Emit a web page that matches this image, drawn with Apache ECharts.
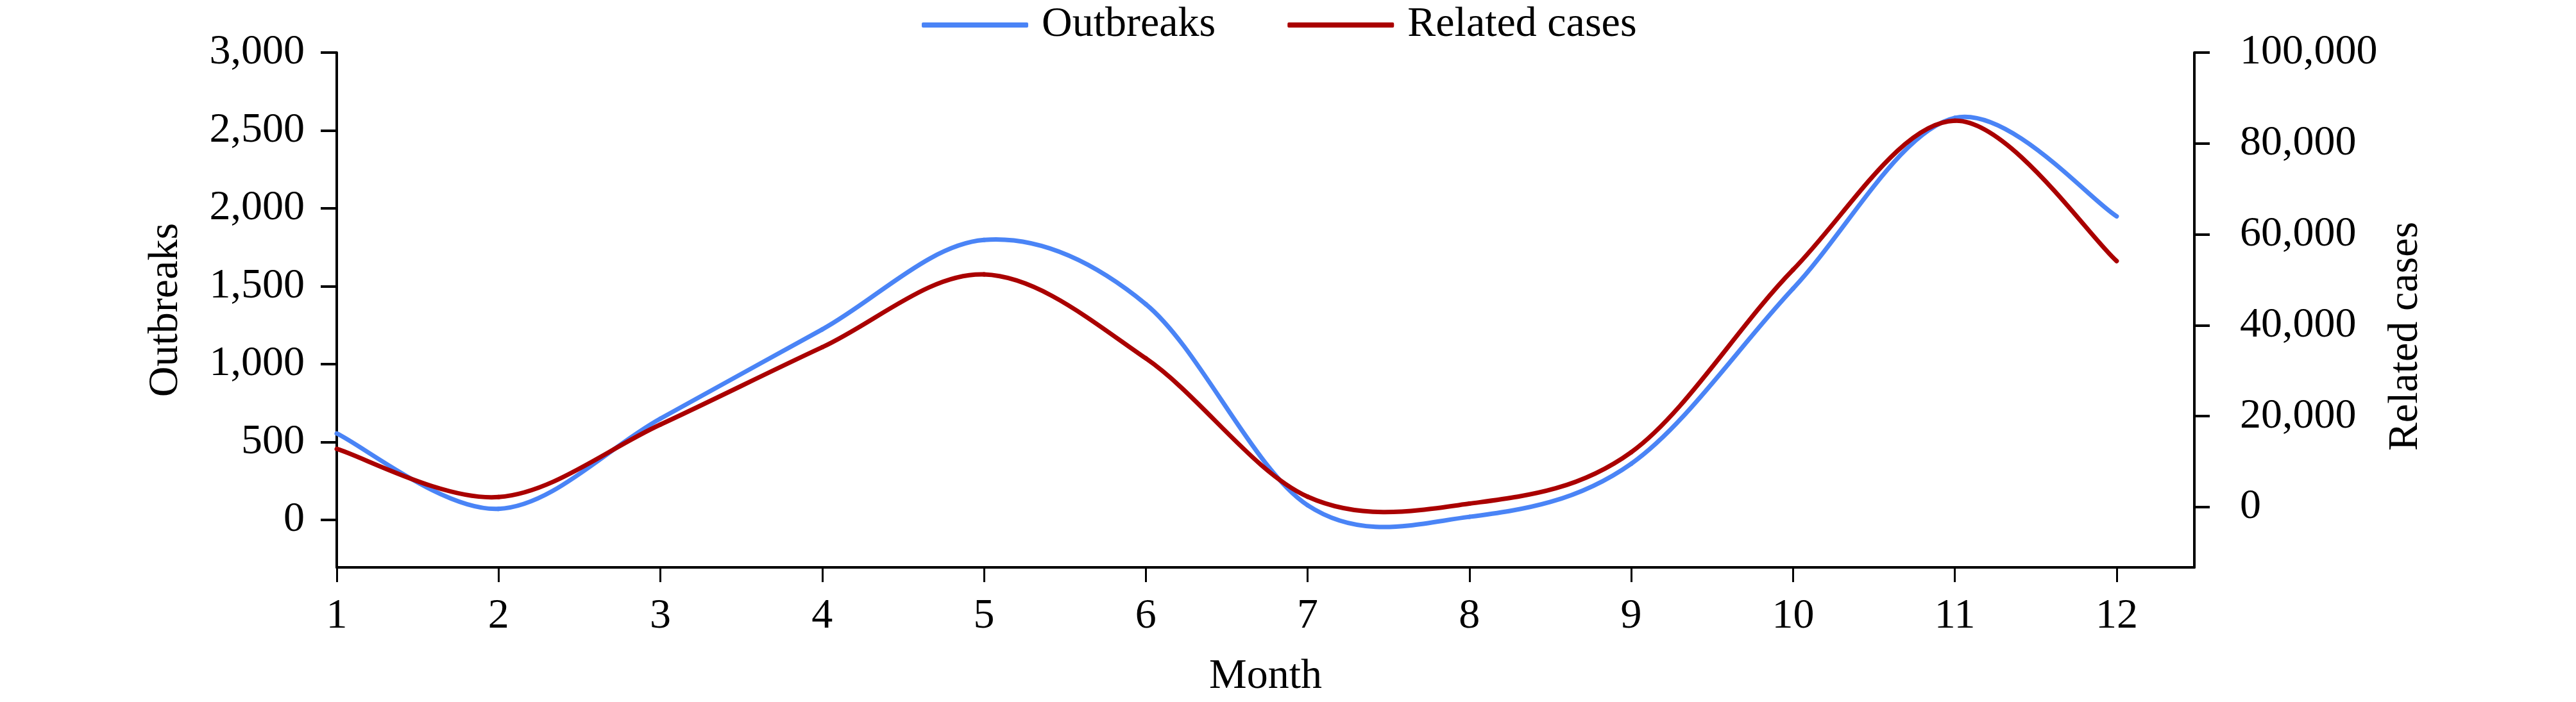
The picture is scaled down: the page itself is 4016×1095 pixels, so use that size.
<!DOCTYPE html>
<html>
<head>
<meta charset="utf-8">
<script src="https://cdn.jsdelivr.net/npm/echarts@6/dist/echarts.min.js"></script>
<style>
  html, body { margin: 0; padding: 0; background: #fff; }
  #chart { width: 4016px; height: 1095px; }
</style>
</head>
<body>
<div id="chart"></div>
<script>
const months = [1, 2, 3, 4, 5, 6, 7, 8, 9, 10, 11, 12];
const outbreaks = [555, 71, 650, 1223, 1797, 1385, 94, 20, 361, 1485, 2581, 1949];
const relatedCases = [12815, 2212, 18155, 35165, 51184, 32724, 2293, 764, 12080, 52215, 85012, 54126];
const leftTicks = [0, 500, 1000, 1500, 2000, 2500, 3000];
const rightTicks = [0, 20000, 40000, 60000, 80000, 100000];

const font = 'Liberation Serif';
const blue = '#4a84f6';
const red = '#aa0000';
const fmt = v => v.toLocaleString('en-US');

const myChart = echarts.init(document.getElementById('chart'));

// excel-style smoothed line: one bezier segment per month, points come from api.coord
function splineItem(values) {
  return function (params, api) {
    const i = params.dataIndex;
    if (i >= values.length - 1) return null;
    const pt = k => {
      const j = Math.max(0, Math.min(values.length - 1, k));
      return api.coord([months[j], values[j]]);
    };
    const p0 = pt(i - 1), p1 = pt(i), p2 = pt(i + 1), p3 = pt(i + 2);
    return {
      type: 'bezierCurve',
      shape: {
        x1: p1[0], y1: p1[1],
        x2: p2[0], y2: p2[1],
        cpx1: p1[0] + (p2[0] - p0[0]) / 6,
        cpy1: p1[1] + (p2[1] - p0[1]) / 6,
        cpx2: p2[0] - (p3[0] - p1[0]) / 6,
        cpy2: p2[1] - (p3[1] - p1[1]) / 6
      },
      style: { stroke: api.visual('color'), fill: null, lineWidth: 7, lineCap: 'round' }
    };
  };
}

const axisLine = { show: true, onZero: false, lineStyle: { color: '#000', width: 4 } };

const option = {
  backgroundColor: '#fff',
  animation: false,
  textStyle: { fontFamily: font },
  legend: {
    top: 1,
    left: 1432,
    icon: 'roundRect',
    itemWidth: 166,
    itemHeight: 8,
    itemGap: 112,
    textStyle: { fontFamily: font, fontSize: 66, color: '#000', padding: [0, 0, 0, 16] },
    data: [
      { name: 'Outbreaks', itemStyle: { color: blue } },
      { name: 'Related cases', itemStyle: { color: red } }
    ]
  },
  grid: {
    left: 525,
    right: 595,
    top: 82,
    bottom: 210,
    containLabel: false
  },
  xAxis: {
    type: 'value',
    min: 1,
    max: 12.48,
    interval: 1,
    name: 'Month',
    nameLocation: 'middle',
    nameGap: 138,
    nameTextStyle: { fontFamily: font, fontSize: 66, color: '#000' },
    axisLine: axisLine,
    axisTick: { show: true, length: 23, lineStyle: { color: '#000', width: 3 }, customValues: months },
    axisLabel: { fontFamily: font, fontSize: 66, color: '#000', margin: 44, customValues: months },
    splitLine: { show: false }
  },
  yAxis: [
    {
      type: 'value',
      position: 'left',
      min: -304.5,
      max: 3000,
      name: 'Outbreaks',
      nameLocation: 'middle',
      nameRotate: 90,
      nameGap: 233,
      nameTextStyle: { fontFamily: font, fontSize: 66, color: '#000' },
      axisLine: axisLine,
      axisTick: { show: true, length: 25, lineStyle: { color: '#000', width: 4 }, customValues: leftTicks },
      axisLabel: { fontFamily: font, fontSize: 66, color: '#000', margin: 50, customValues: leftTicks, formatter: fmt },
      splitLine: { show: false }
    },
    {
      type: 'value',
      position: 'right',
      min: -13258,
      max: 100000,
      name: 'Related cases',
      nameLocation: 'middle',
      nameRotate: 90,
      nameGap: 295,
      nameTextStyle: { fontFamily: font, fontSize: 66, color: '#000', padding: [0, 82, 0, 0] },
      axisLine: axisLine,
      axisTick: { show: true, length: 24, lineStyle: { color: '#000', width: 4 }, customValues: rightTicks },
      axisLabel: { fontFamily: font, fontSize: 66, color: '#000', margin: 71, customValues: rightTicks, formatter: fmt },
      splitLine: { show: false }
    }
  ],
  series: [
    {
      name: 'Outbreaks',
      type: 'custom',
      yAxisIndex: 0,
      itemStyle: { color: blue },
      encode: { x: 0, y: 1 },
      renderItem: splineItem(outbreaks),
      data: months.map((m, i) => [m, outbreaks[i]])
    },
    {
      name: 'Related cases',
      type: 'custom',
      yAxisIndex: 1,
      itemStyle: { color: red },
      encode: { x: 0, y: 1 },
      renderItem: splineItem(relatedCases),
      data: months.map((m, i) => [m, relatedCases[i]])
    }
  ]
};

myChart.setOption(option);
</script>
</body>
</html>
